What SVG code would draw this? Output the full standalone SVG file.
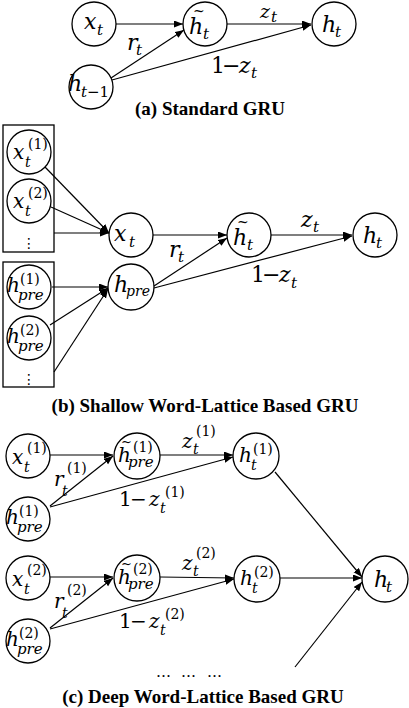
<svg xmlns="http://www.w3.org/2000/svg" width="409" height="708" viewBox="0 0 409 708">
<defs>
<marker id="ah" markerUnits="userSpaceOnUse" markerWidth="10" markerHeight="8" refX="9" refY="3.5" orient="auto">
<path d="M0,0 L9,3.5 L0,7 z" fill="#000"/>
</marker>
<style>
.n circle{fill:#fff;stroke:#000;stroke-width:1.3}
.box{fill:none;stroke:#000;stroke-width:1.3}
#edges path{fill:none;stroke:#000;stroke-width:1.2}
#edges path.a{marker-end:url(#ah)}
text{fill:#000}
.mi{font-family:"DejaVu Serif",serif;font-style:italic}
.mr{font-family:"DejaVu Serif",serif;font-style:normal}
.cap{font-family:"Liberation Serif",serif;font-weight:bold;font-size:19px;text-anchor:middle}
.big{font-size:22px}
.med{font-size:20px}
.sm{font-size:15px}
.xs{font-size:14px}
.tl{font-size:14px}
.dots{font-family:"DejaVu Sans",sans-serif;font-size:14px;text-anchor:middle}
</style>
</defs>
<rect width="409" height="708" fill="#fff"/>

<g id="edges">
<!-- (a) -->
<path class="a" d="M116,24 L183,24"/>
<path class="a" d="M111,78 L184,30"/>
<path class="a" d="M112,80 L311,25"/>
<path class="a" d="M227,24 L311,24"/>
<!-- (b) -->
<path class="a" d="M45,167 L109,233"/>
<path class="a" d="M51,207 L109,233"/>
<path class="a" d="M54,233 L109,233"/>
<path class="a" d="M153,235 L227,235"/>
<path class="a" d="M154,286 L227,238"/>
<path class="a" d="M154,288 L352,236"/>
<path class="a" d="M271,235 L352,235"/>
<path class="a" d="M52,287 L108,287"/>
<path class="a" d="M50,325 L108,288"/>
<path class="a" d="M54,372 L108,289"/>
<!-- (c) -->
<path class="a" d="M50,455 L113,455"/>
<path class="a" d="M50,506 L113,456"/>
<path class="a" d="M50,507 L233,457"/>
<path class="a" d="M160,455 L233,455"/>
<path class="a" d="M275,472 L362,577"/>
<path class="a" d="M50,577 L113,577"/>
<path class="a" d="M50,628 L113,578"/>
<path class="a" d="M50,629 L234,579"/>
<path class="a" d="M160,577 L234,578"/>
<path class="a" d="M280,578 L362,578"/>
<path class="a" d="M295,667 L362,582"/>
</g>

<!-- (a) Standard GRU -->
<g id="a_xt" class="n" transform="translate(94,24)">
<circle r="22"/>
<text class="mi big" x="-10" y="5">x<tspan class="sm" x="3" y="11">t</tspan></text>
</g>
<g id="a_htil" class="n" transform="translate(205,24)">
<circle r="22"/>
<text class="mi big" x="-16" y="10">h<tspan class="mr tl" x="-12" y="-8">~</tspan><tspan class="sm" x="-2" y="15">t</tspan></text>
</g>
<g id="a_ht" class="n" transform="translate(334,24)">
<circle r="22"/>
<text class="mi big" x="-12" y="8">h<tspan class="sm" x="1" y="13">t</tspan></text>
</g>
<g id="a_htm1" class="n" transform="translate(91,87)">
<circle r="22"/>
<text class="mi big" x="-23" y="4">h<tspan class="sm" x="-10" y="10">t</tspan><tspan class="mr sm">−1</tspan></text>
</g>
<g id="a_labels">
<text class="mi big" x="127" y="50">r<tspan class="sm" x="136" y="55">t</tspan></text>
<text class="mi" font-size="19" x="260" y="18">z<tspan class="sm" x="271" y="22">t</tspan></text>
<text class="mr big" y="73"><tspan x="211">1</tspan><tspan x="222">−</tspan><tspan class="mi" x="239">z</tspan><tspan class="mi sm" x="251" y="78">t</tspan></text>
<text class="cap" x="210" y="115">(a) Standard GRU</text>
</g>

<!-- (b) Shallow Word-Lattice Based GRU -->
<rect class="box" x="3" y="125" width="51" height="127"/>
<rect class="box" x="3" y="262" width="51" height="125"/>
<g id="b_x1" class="n" transform="translate(29,152)">
<circle r="22"/>
<text class="mi med" x="-16" y="7">x<tspan class="mr xs" x="-1" y="-3">(1)</tspan><tspan class="xs" x="-4" y="15">t</tspan></text>
</g>
<g id="b_x2" class="n" transform="translate(29,201)">
<circle r="22"/>
<text class="mi med" x="-16" y="7">x<tspan class="mr xs" x="-1" y="-3">(2)</tspan><tspan class="xs" x="-4" y="15">t</tspan></text>
</g>
<text class="dots" x="29" y="248">⋮</text>
<g id="b_h1" class="n" transform="translate(29,287)">
<circle r="22"/>
<text class="mi med" x="-22" y="5">h<tspan class="mr xs" x="-9" y="-3">(1)</tspan><tspan class="sm" x="-11" y="13">pre</tspan></text>
</g>
<g id="b_h2" class="n" transform="translate(29,338)">
<circle r="22"/>
<text class="mi med" x="-22" y="5">h<tspan class="mr xs" x="-9" y="-3">(2)</tspan><tspan class="sm" x="-11" y="13">pre</tspan></text>
</g>
<text class="dots" x="29" y="384">⋮</text>
<g id="b_xt" class="n" transform="translate(131,235)">
<circle r="22"/>
<text class="mi big" x="-17" y="6">x<tspan class="sm" x="-2" y="12">t</tspan></text>
</g>
<g id="b_hpre" class="n" transform="translate(131,287)">
<circle r="23"/>
<text class="mi big" x="-17" y="5">h<tspan class="xs" x="-5" y="9">pre</tspan></text>
</g>
<g id="b_htil" class="n" transform="translate(249,235)">
<circle r="22"/>
<text class="mi big" x="-16" y="10">h<tspan class="mr tl" x="-12" y="-8">~</tspan><tspan class="sm" x="-2" y="15">t</tspan></text>
</g>
<g id="b_ht" class="n" transform="translate(375,235)">
<circle r="22"/>
<text class="mi big" x="-12" y="8">h<tspan class="sm" x="1" y="13">t</tspan></text>
</g>
<g id="b_labels">
<text class="mi big" x="169" y="257">r<tspan class="sm" x="178" y="262">t</tspan></text>
<text class="mi big" x="301" y="227">z<tspan class="sm" x="313" y="232">t</tspan></text>
<text class="mr big" y="282"><tspan x="251">1</tspan><tspan x="262">−</tspan><tspan class="mi" x="279">z</tspan><tspan class="mi sm" x="291" y="288">t</tspan></text>
<text class="cap" x="205" y="412">(b) Shallow Word-Lattice Based GRU</text>
</g>

<!-- (c) Deep Word-Lattice Based GRU -->
<g id="c_x1" class="n" transform="translate(28,456)">
<circle r="22"/>
<text class="mi med" x="-16" y="8">x<tspan class="mr xs" x="-1" y="-3">(1)</tspan><tspan class="xs" x="-4" y="16">t</tspan></text>
</g>
<g id="c_h1" class="n" transform="translate(28,519)">
<circle r="22"/>
<text class="mi med" x="-22" y="5">h<tspan class="mr xs" x="-9" y="-3">(1)</tspan><tspan class="sm" x="-11" y="13">pre</tspan></text>
</g>
<g id="c_htil1" class="n" transform="translate(137,456)">
<circle r="23"/>
<text class="mi med" x="-19" y="6">h<tspan class="mr" font-size="13" x="-16" y="-10">~</tspan><tspan class="mr xs" x="-4" y="-4">(1)</tspan><tspan class="sm" x="-9" y="11">pre</tspan></text>
</g>
<g id="c_ht1" class="n" transform="translate(256,456)">
<circle r="23"/>
<text class="mi med" x="-17" y="6">h<tspan class="mr xs" x="-3" y="-2">(1)</tspan><tspan class="xs" x="-5" y="14">t</tspan></text>
</g>
<g id="c_x2" class="n" transform="translate(28,578)">
<circle r="22"/>
<text class="mi med" x="-16" y="8">x<tspan class="mr xs" x="-1" y="-3">(2)</tspan><tspan class="xs" x="-4" y="16">t</tspan></text>
</g>
<g id="c_h2" class="n" transform="translate(28,641)">
<circle r="22"/>
<text class="mi med" x="-22" y="5">h<tspan class="mr xs" x="-9" y="-3">(2)</tspan><tspan class="sm" x="-11" y="13">pre</tspan></text>
</g>
<g id="c_htil2" class="n" transform="translate(137,578)">
<circle r="23"/>
<text class="mi med" x="-19" y="6">h<tspan class="mr" font-size="13" x="-16" y="-10">~</tspan><tspan class="mr xs" x="-4" y="-4">(2)</tspan><tspan class="sm" x="-9" y="11">pre</tspan></text>
</g>
<g id="c_ht2" class="n" transform="translate(257,579)">
<circle r="23"/>
<text class="mi med" x="-17" y="6">h<tspan class="mr xs" x="-3" y="-2">(2)</tspan><tspan class="xs" x="-5" y="14">t</tspan></text>
</g>
<g id="c_ht" class="n" transform="translate(385,579)">
<circle r="23"/>
<text class="mi big" x="-11" y="8">h<tspan class="sm" x="1" y="13">t</tspan></text>
</g>
<g id="c_labels">
<text class="mi med" x="54" y="486">r<tspan class="xs" x="62" y="496">t</tspan><tspan class="mr xs" x="67" y="473">(1)</tspan></text>
<text class="mi med" x="182" y="448">z<tspan class="xs" x="193" y="454">t</tspan><tspan class="mr xs" x="196" y="436">(1)</tspan></text>
<text class="mr med" y="506"><tspan x="119">1</tspan><tspan x="130">−</tspan><tspan class="mi" x="149">z</tspan><tspan class="mi xs" x="160" y="513">t</tspan><tspan class="xs" x="165" y="497">(1)</tspan></text>
<text class="mi med" x="54" y="608">r<tspan class="xs" x="62" y="618">t</tspan><tspan class="mr xs" x="67" y="595">(2)</tspan></text>
<text class="mi med" x="182" y="570">z<tspan class="xs" x="193" y="576">t</tspan><tspan class="mr xs" x="196" y="558">(2)</tspan></text>
<text class="mr med" y="628"><tspan x="119">1</tspan><tspan x="130">−</tspan><tspan class="mi" x="149">z</tspan><tspan class="mi xs" x="160" y="635">t</tspan><tspan class="xs" x="165" y="619">(2)</tspan></text>
<text class="mr" font-size="15" y="677"><tspan x="156">…</tspan><tspan x="181">…</tspan><tspan x="207">…</tspan></text>
<text class="cap" x="203" y="703">(c) Deep Word-Lattice Based GRU</text>
</g>
</svg>
